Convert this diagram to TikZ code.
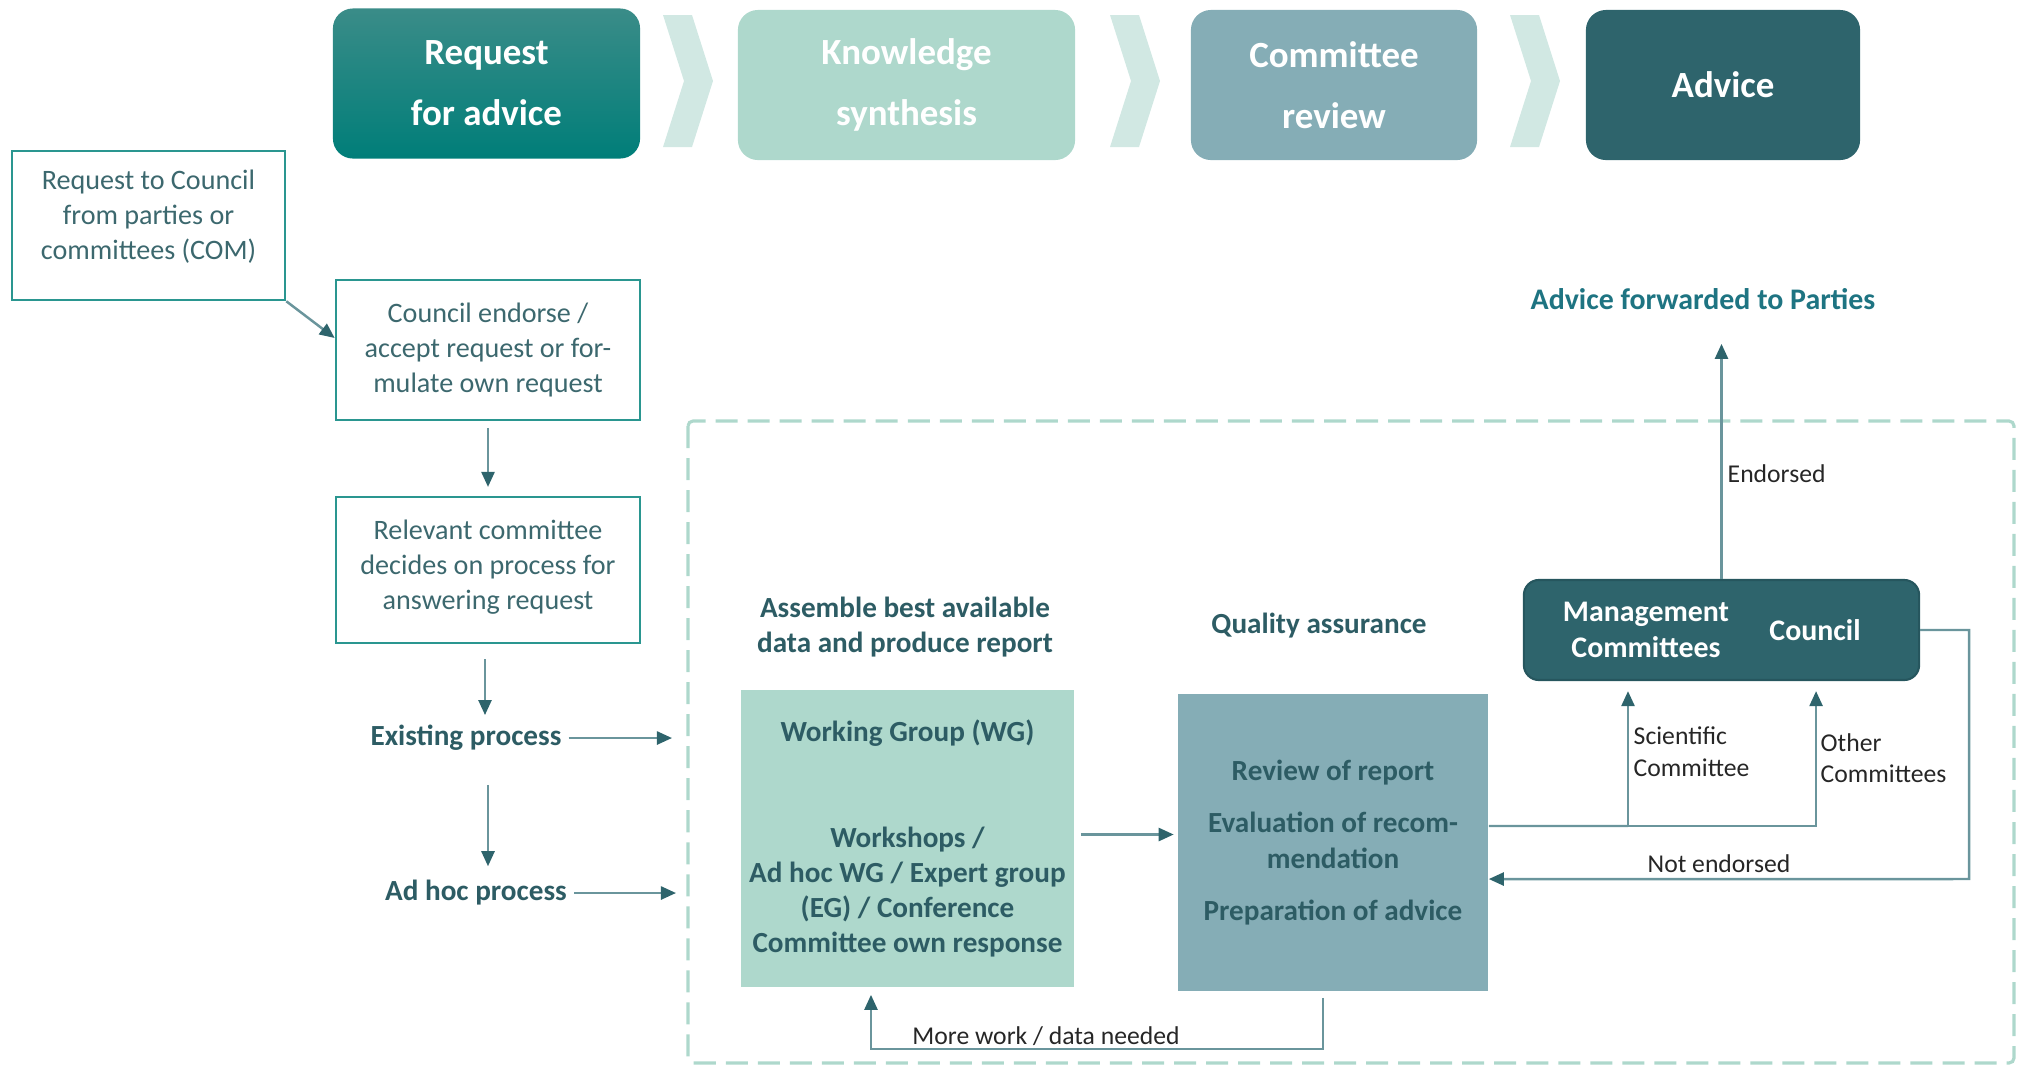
\documentclass[tikz,border=0pt]{standalone}
\usepackage{fontspec}
\setmainfont{Carlito}
\usepackage{tikz}
\usetikzlibrary{arrows.meta}
\definecolor{darkteal}{RGB}{46,100,108}
\definecolor{mint}{RGB}{174,216,204}
\definecolor{greyblue}{RGB}{133,173,182}
\definecolor{chevron}{RGB}{209,232,227}
\definecolor{boxteal}{RGB}{42,150,144}
\definecolor{boxtext}{RGB}{60,104,110}
\definecolor{labelteal}{RGB}{45,92,100}
\definecolor{lineteal}{RGB}{106,149,156}
\definecolor{fwdteal}{RGB}{30,116,130}
\tikzstyle{Arrow}=[draw=lineteal, line width=0.7pt, -{Triangle[length=1.5mm,width=1.3mm,color=darkteal]}]
\tikzstyle{Line}=[draw=lineteal, line width=0.7pt]
\tikzstyle{Phase}=[rounded corners=2mm, minimum height=1.5cm, inner sep=0pt, text=white, align=center, font=\fontsize{10.5}{17.4}\selectfont\bfseries]
\tikzstyle{Box}=[draw=boxteal, line width=0.7pt, align=center, text=boxtext, inner sep=0pt, font=\fontsize{8}{10}\selectfont]
\tikzstyle{Label}=[text=labelteal, align=center, inner sep=1pt, font=\fontsize{8.3}{10}\selectfont\bfseries]
\tikzstyle{Small}=[text=black!85, align=left, inner sep=0pt, font=\fontsize{7.3}{9}\selectfont]

\begin{document}
\begin{tikzpicture}[x=0.01cm, y=-0.01cm]
\useasboundingbox (0,0) rectangle (2024,1066);

\node[Phase, minimum width=3.07cm, top color={rgb,255:red,58;green,140;blue,136}, bottom color={rgb,255:red,0;green,126;blue,121}] (request) at (486.5,83.5) {Request\\for advice};
\node[Phase, minimum width=3.37cm, fill=mint] (synthesis) at (906.5,85) {Knowledge\\synthesis};
\node[Phase, minimum width=2.86cm, fill=greyblue] (review) at (1334,85) {Committee\\review};
\node[Phase, minimum width=2.74cm, fill=darkteal] (advice) at (1723,85) {Advice};
\foreach \x in {663,1110,1510}
  \fill[chevron] (\x,15) -- ++(29,0) -- ++(21,66) -- ++(-21,66) -- ++(-29,0) -- ++(21,-66) -- cycle;

\node[Box, minimum width=2.73cm, minimum height=1.49cm, text depth=0.22cm] (tocouncil) at (148.5,225.5) {Request to Council\\from parties or\\committees (COM)};
\node[Box, minimum width=3.04cm, minimum height=1.4cm] (endorse) at (488,350) {Council endorse /\\accept request or for-\\mulate own request};
\node[Box, minimum width=3.04cm, minimum height=1.46cm, text depth=0.1cm] (decides) at (488,570) {Relevant committee\\decides on process for\\answering request};
\node[Label] (existing) at (466,738) {Existing process};
\node[Label] (adhoc) at (476,893) {Ad hoc process};
\coordinate (inexist) at (672,738);
\coordinate (inadhoc) at (676,893);

\draw[Arrow] (tocouncil.south east) -- ([yshift=1.2mm]endorse.west);
\draw[Arrow, shorten <=2pt, shorten >=2.5pt] (endorse.south) -- (decides.north);
\draw[Arrow, shorten <=1.5mm, shorten >=0.6mm] ([xshift=-0.3mm]decides.south) -- ([xshift=-0.3mm]decides.south |- existing.north);
\draw[Arrow, shorten <=0.3mm] (existing.east) -- (inexist);
\draw[Arrow, shorten <=3mm, shorten >=1mm] (decides.south |- existing.south) -- (decides.south |- adhoc.north);
\draw[Arrow, shorten <=0.3mm] (adhoc.east) -- (inadhoc);

\draw[mint, line width=0.9pt, dash pattern=on 0.22cm off 0.1cm, rounded corners=0.5mm] (688,421) rectangle (2014,1063);

\node[Label] (assemble) at (905,627) {Assemble best available\\data and produce report};
\node[Label] (quality) at (1319,626) {Quality assurance};
\node[Label, fill=mint, minimum width=3.33cm, minimum height=2.97cm, inner sep=0pt] (wg) at (907.5,838.5) {Working Group (WG)\\[0.71cm]Workshops /\\Ad hoc WG / Expert group\\(EG) / Conference\\Committee own response};
\node[Label, fill=greyblue, minimum width=3.1cm, minimum height=2.97cm, inner sep=0pt] (quality box) at (1333,842.5) {Review of report\\[0.17cm]Evaluation of recom-\\mendation\\[0.17cm]Preparation of advice};
\draw[Arrow, shorten <=1.7pt, shorten >=1pt] ([yshift=0.4mm]wg.east) -- ([yshift=0.4mm]wg.east -| quality box.west);

\node[Small] (morework) at (1046,1036) {More work / data needed};
\draw[Arrow, shorten >=2pt] ([xshift=-1mm,yshift=-0.6mm]quality box.south) -- ++(0,51) -| ([xshift=-0.365cm]wg.south);

\node[draw={rgb,255:red,38;green,86;blue,94}, line width=0.6pt, fill=darkteal, rounded corners=1.5mm, minimum width=3.95cm, minimum height=1cm] (mgmt) at (1721.5,630) {};
\node[text=white, align=center, inner sep=0pt, font=\fontsize{8.5}{10.2}\selectfont\bfseries] (mgmtcom) at (1646,630) {Management\\Committees};
\node[text=white, inner sep=0pt, font=\fontsize{8.5}{10.2}\selectfont\bfseries] (council) at (1815,630) {Council};

\node[text=fwdteal, inner sep=1pt, font=\fontsize{8.5}{10}\selectfont\bfseries] (forwarded) at (1703,299) {Advice forwarded to Parties};
\draw[Arrow, shorten >=3mm] (mgmt.north) -- (mgmt.north |- forwarded.south);
\node[Small, anchor=west] (endorsed) at (1727,474) {Endorsed};

\coordinate (sciroot) at (1628,826);
\draw[Line] ([yshift=1.65mm]quality box.east) -- (sciroot);
\draw[Arrow, shorten >=1mm] (sciroot) -- (sciroot |- mgmt.south);
\draw[Arrow, shorten >=1mm] (sciroot) -| ([xshift=9.45mm]mgmt.south);
\node[Small, anchor=west] (scientific) at (1633,752) {Scientific\\Committee};
\node[Small, anchor=west] (other) at (1820,758) {Other\\Committees};

\coordinate (notend) at (1969,879);
\draw[Arrow] (mgmt.east) -| (notend) -- ([yshift=-3.65mm]quality box.east);
\node[Small] (notendorsed) at (1719,864) {Not endorsed};

\end{tikzpicture}
\end{document}
